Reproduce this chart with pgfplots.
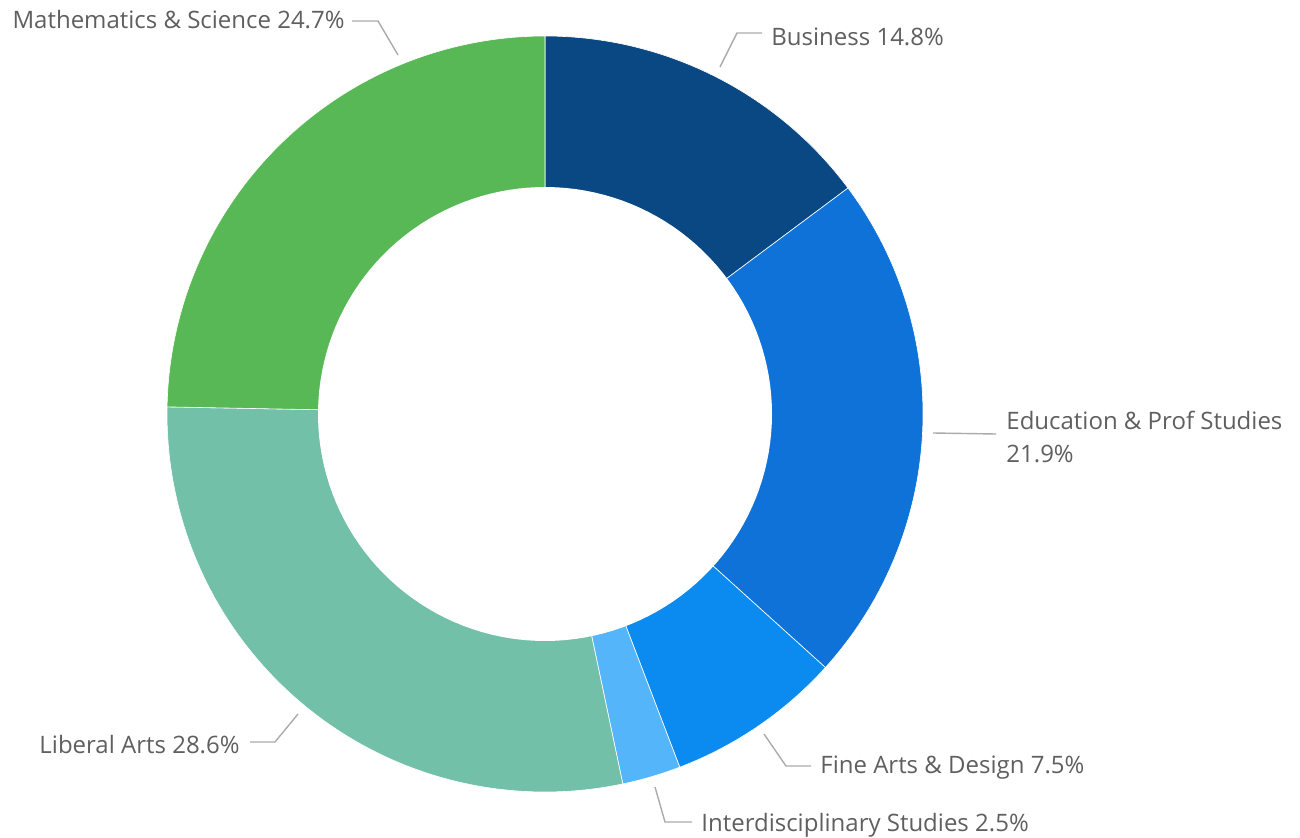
\documentclass[border=0pt]{standalone}
\usepackage{pgfplots}
\pgfplotsset{compat=1.18}
\usepackage{fontspec}
\setmainfont{Open Sans}
\definecolor{cBus}{HTML}{0A4883}
\definecolor{cEdu}{HTML}{0E72D8}
\definecolor{cFine}{HTML}{0B8BF0}
\definecolor{cInter}{HTML}{55B5FA}
\definecolor{cLib}{HTML}{72C0A8}
\definecolor{cMath}{HTML}{58B856}
\definecolor{txt}{HTML}{5F5F5F}
\definecolor{lead}{HTML}{ABABAB}

% centre (545,423), outer radius 378, inner radius 227 (axis units = pixels)
\newcommand{\slice}[3]{%
  \addplot[fill=#1, draw=white, line width=0.3pt, domain={90-3.6*(#2+#3)}:{90-3.6*#2},
    samples=90, variable=\t] ({545+378*cos(\t)},{423+378*sin(\t)}) -- (axis cs:545,423) -- cycle;}

\begin{document}
\begin{tikzpicture}
\begin{axis}[
    width=650pt, height=418.5pt, scale only axis,
    xmin=0, xmax=1300, ymin=0, ymax=837,
    hide axis, clip=false,
]
% share (%), cumulative start
\slice{cBus}{0}{14.8}
\slice{cEdu}{14.8}{21.9}
\slice{cFine}{36.7}{7.5}
\slice{cInter}{44.2}{2.5}
\slice{cLib}{46.7}{28.6}
\slice{cMath}{75.3}{24.7}
\addplot[fill=white, draw=none, domain=0:360, samples=150, variable=\t]
  ({545+227*cos(\t)},{423+227*sin(\t)}) -- cycle;

% leader lines
\draw[lead, line width=0.7pt] (axis cs:398,782) -- (axis cs:378,816) -- (axis cs:352,816);
\draw[lead, line width=0.7pt] (axis cs:720,770) -- (axis cs:737,804) -- (axis cs:762,804);
\draw[lead, line width=0.7pt] (axis cs:933,404) -- (axis cs:996,403);
\draw[lead, line width=0.7pt] (axis cs:764,103) -- (axis cs:786,71) -- (axis cs:811,71);
\draw[lead, line width=0.7pt] (axis cs:655,50) -- (axis cs:665,15) -- (axis cs:692,15);
\draw[lead, line width=0.7pt] (axis cs:298,123) -- (axis cs:275,95) -- (axis cs:250,95);

% labels
\tikzset{lbl/.style={font=\fontsize{12}{16.5}\selectfont, text=txt, inner sep=0pt}}
\node[lbl, anchor=east] at (axis cs:345,817) {Mathematics \& Science 24.7\%};
\node[lbl, anchor=west] at (axis cs:771,800) {Business 14.8\%};
\node[lbl, anchor=west, align=left] at (axis cs:1006,400.5) {Education \& Prof Studies\\21.9\%};
\node[lbl, anchor=west] at (axis cs:820,69) {Fine Arts \& Design 7.5\%};
\node[lbl, anchor=west] at (axis cs:701,12) {Interdisciplinary Studies 2.5\%};
\node[lbl, anchor=east] at (axis cs:240,92) {Liberal Arts 28.6\%};
\end{axis}
\pgfresetboundingbox
\path (current axis.south west) rectangle (current axis.north east);
\end{tikzpicture}
\end{document}
